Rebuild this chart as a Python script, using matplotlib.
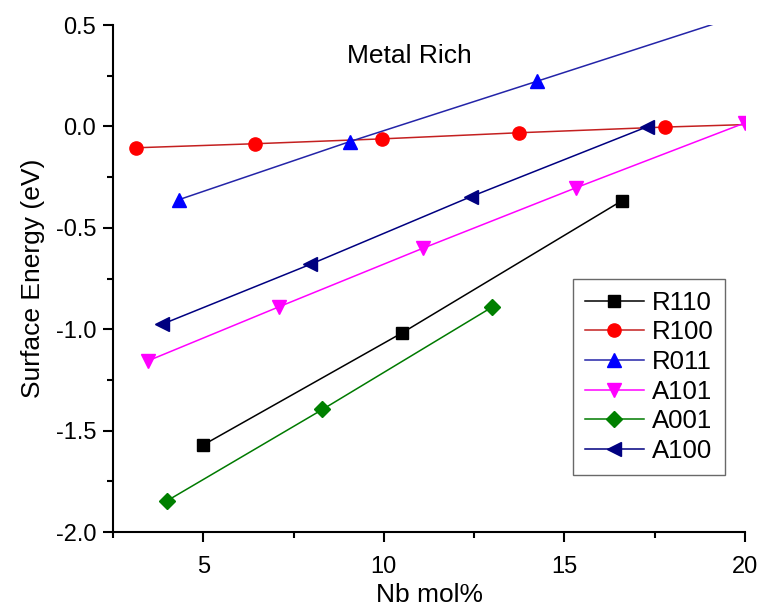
"""Surface energy vs Nb mol% (metal rich) - line + marker plot."""
import matplotlib
matplotlib.use("Agg")
import matplotlib.pyplot as plt
from matplotlib.ticker import MultipleLocator

plt.rcParams["font.family"] = ["Liberation Sans", "DejaVu Sans"]

# --- data ---
r110_x = [5.0, 10.5, 16.6]
r110_y = [-1.57, -1.018, -0.365]

r100_x = [3.14, 6.44, 9.96, 13.73, 17.77, 20.5]
r100_y = [-0.105, -0.085, -0.061, -0.031, -0.003, 0.012]

r011_x = [4.34, 9.05, 14.24, 20.0]
r011_y = [-0.36, -0.075, 0.223, 0.555]

a101_x = [3.46, 7.11, 11.07, 15.32, 20.0]
a101_y = [-1.156, -0.888, -0.601, -0.302, 0.018]

a001_x = [4.0, 8.3, 13.0]
a001_y = [-1.845, -1.395, -0.89]

a100_x = [3.86, 7.96, 12.41, 17.28]
a100_y = [-0.975, -0.68, -0.346, -0.002]

series = [
    ("R110", r110_x, r110_y, "s", "black", "black", 8.5),
    ("R100", r100_x, r100_y, "o", "#c42020", "#ff0000", 9.5),
    ("R011", r011_x, r011_y, "^", "#2424a8", "#0000ff", 10),
    ("A101", a101_x, a101_y, "v", "#ff00ff", "#ff00ff", 10),
    ("A001", a001_x, a001_y, "D", "#007a00", "#008000", 8),
    ("A100", a100_x, a100_y, "<", "#000080", "#000080", 10),
]

fig = plt.figure(figsize=(7.58, 6.11), dpi=100)
ax = fig.add_axes([0.149, 0.129, 0.834, 0.830])

for name, xs, ys, mk, lc, mc, ms in series:
    ax.plot(xs, ys, "-", color=lc, lw=1.1, marker=mk, markersize=ms,
            markerfacecolor=mc, markeredgecolor=mc, label=name)

ax.set_xlim(2.5, 20)
ax.set_ylim(-2.0, 0.5)
ax.xaxis.set_major_locator(MultipleLocator(5))
ax.xaxis.set_minor_locator(MultipleLocator(2.5))
ax.yaxis.set_major_locator(MultipleLocator(0.5))
ax.yaxis.set_minor_locator(MultipleLocator(0.25))
ax.yaxis.set_major_formatter(matplotlib.ticker.FormatStrFormatter("%.1f"))

for side in ("top", "right"):
    ax.spines[side].set_visible(False)
for side in ("left", "bottom"):
    ax.spines[side].set_linewidth(1.5)
ax.tick_params(which="major", direction="out", length=7.5, width=1.5,
               labelsize=17)
ax.tick_params(which="minor", direction="out", length=4, width=1.5)
ax.tick_params(axis="x", which="major", pad=10)
ax.tick_params(axis="y", which="major", pad=4.5)

ax.set_xlabel("Nb mol%", fontsize=19, labelpad=3)
ax.set_ylabel("Surface Energy (eV)", fontsize=19, labelpad=8)
ax.text(10.7, 0.345, "Metal Rich", fontsize=19, ha="center", va="center")

leg = ax.legend(loc="upper left", bbox_to_anchor=(0.728, 0.499),
                borderaxespad=0, fontsize=18.5, frameon=True, fancybox=False,
                handlelength=2.3, handletextpad=0.3, labelspacing=0.22,
                borderpad=0.45)
leg.get_frame().set_edgecolor("#444444")
leg.get_frame().set_linewidth(1.0)

fig.savefig("out.png", dpi=100)
